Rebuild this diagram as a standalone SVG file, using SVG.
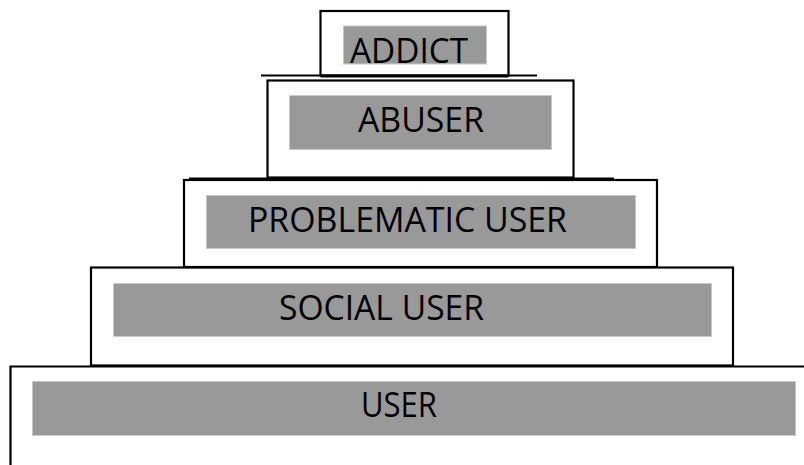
<svg xmlns="http://www.w3.org/2000/svg" width="804" height="465" viewBox="0 0 804 465">
  <style>
    .tier { fill: #ffffff; stroke: #000000; stroke-width: 2.2; }
    .band { fill: #999999; stroke: #c8c8c8; stroke-width: 1; }
    .label { font-family: "Open Sans", "Liberation Sans", sans-serif; font-size: 35px; fill: #000000; }
    .ledge { stroke: #000000; stroke-width: 2.2; fill: none; }
  </style>

  <!-- base tier, running off the right edge -->
  <g id="user">
    <path class="tier" d="M10.5,465 V366.5 H810"/>
    <rect class="band" x="32.5" y="381.5" width="763" height="54"/>
    <text class="label" x="361" y="417" textLength="76" lengthAdjust="spacingAndGlyphs">USER</text>
  </g>

  <g id="social-user">
    <rect class="tier" x="91" y="267.5" width="642" height="98"/>
    <rect class="band" x="113.5" y="283.5" width="598" height="53"/>
    <text class="label" x="279" y="320" textLength="205" lengthAdjust="spacingAndGlyphs">SOCIAL USER</text>
  </g>

  <g id="problematic-user">
    <rect class="tier" x="184" y="180" width="473" height="87"/>
    <rect class="band" x="206.5" y="195.5" width="429" height="53"/>
    <text class="label" x="248" y="232" textLength="319" lengthAdjust="spacingAndGlyphs">PROBLEMATIC USER</text>
  </g>

  <g id="abuser">
    <rect class="tier" x="267.5" y="80.5" width="306" height="97"/>
    <rect class="band" x="289.5" y="95.5" width="262" height="54"/>
    <text class="label" x="358" y="132" textLength="126" lengthAdjust="spacingAndGlyphs">ABUSER</text>
  </g>

  <g id="addict">
    <rect class="tier" x="320.5" y="11" width="188" height="64.5"/>
    <rect class="band" x="343.5" y="26" width="143" height="38"/>
    <text class="label" x="350" y="63" font-size="37" textLength="118" lengthAdjust="spacingAndGlyphs">ADDICT</text>
  </g>

  <!-- ledges under the upper tiers -->
  <g id="ledges">
    <line class="ledge" x1="261" y1="75.5" x2="537" y2="75.5"/>
    <line class="ledge" x1="320.5" y1="76.5" x2="508.5" y2="76.5"/>
    <line class="ledge" x1="189" y1="178.5" x2="614" y2="178.5"/>
  </g>
</svg>
